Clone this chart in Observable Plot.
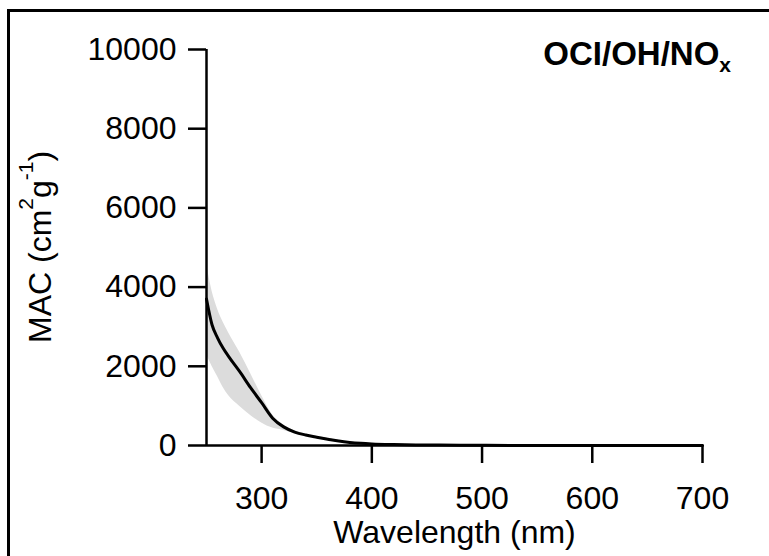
<!DOCTYPE html>
<html>
<head>
<meta charset="utf-8">
<script src="https://cdn.jsdelivr.net/npm/d3@7"></script>
<script src="https://cdn.jsdelivr.net/npm/@observablehq/plot@0.6"></script>
<style>
  html, body { margin: 0; padding: 0; background: #fff; }
  #wrap { position: relative; width: 769px; height: 556px; overflow: hidden; }
  #frame { position: absolute; left: 7px; top: 9px; width: 800px; height: 600px;
           border-left: 3px solid #000; border-top: 3px solid #000; pointer-events: none; }
  svg { font-family: "Liberation Sans", Arial, sans-serif; }
</style>
</head>
<body>
<div id="wrap"><div id="frame"></div></div>
<script>
// Mass absorption coefficient spectrum (OCI/OH/NOx), mean with uncertainty band
const wavelength = [250, 255, 260, 265, 270, 280, 290, 300, 310, 320, 330, 340, 350, 360, 370, 380, 390, 400, 420, 440, 460, 480, 500, 550, 600, 650, 700];
const macMean    = [3700, 3050, 2720, 2460, 2250, 1870, 1460, 1080, 690, 470, 340, 265, 210, 160, 112, 78, 55, 40, 24, 15, 10, 6, 4, 2, 1, 1, 0];
const macLow     = [2300, 2000, 1740, 1470, 1260, 990, 760, 570, 440, 380, 300, 235, 185, 140, 98, 68, 48, 34, 20, 12, 6, 3, 2, 0, 0, 0, 0];
const macHigh    = [4600, 3900, 3450, 3120, 2850, 2360, 1820, 1260, 770, 520, 370, 290, 232, 178, 125, 88, 62, 46, 28, 18, 13, 9, 6, 4, 2, 2, 1];

const yTicks = [0, 2000, 4000, 6000, 8000, 10000];
const xTicks = [300, 400, 500, 600, 700];

const spectrum = wavelength.map((wl, i) => ({wl, mac: macMean[i], lo: macLow[i], hi: macHigh[i]}));

const chart = Plot.plot({
  width: 769,
  height: 556,
  marginLeft: 206,
  marginRight: 67,
  marginTop: 49,
  marginBottom: 111,
  style: {background: "transparent", fontFamily: "Liberation Sans, Arial, sans-serif", color: "#000"},
  x: {domain: [250, 700]},
  y: {domain: [0, 10000]},
  marks: [
    Plot.areaY(spectrum, {x: "wl", y1: "lo", y2: "hi", fill: "#dcdcdc", curve: "monotone-x"}),
    Plot.line(spectrum, {x: "wl", y: "mac", stroke: "#000", strokeWidth: 3, curve: "monotone-x"}),
    Plot.ruleX([250], {stroke: "#000", strokeWidth: 2.5}),
    Plot.ruleY([0], {stroke: "#000", strokeWidth: 2.5}),
    Plot.axisY({ticks: yTicks, tickSize: 18, tickPadding: 12, fontSize: 32, tickFormat: d3.format("d"),
                label: null, stroke: "#000", strokeWidth: 2.5, fill: "#000"}),
    Plot.axisX({ticks: xTicks, tickSize: 18, tickPadding: 23, fontSize: 32, tickFormat: d3.format("d"),
                label: null, stroke: "#000", strokeWidth: 2.5, fill: "#000"}),
    Plot.text(["Wavelength (nm)"], {frameAnchor: "bottom", lineAnchor: "bottom", dy: 97, fontSize: 32, fill: "#000"})
  ]
});

document.getElementById("wrap").prepend(chart);

const svg = d3.select(chart);

// y-axis title with superscripts
const yl = svg.append("text")
  .attr("transform", "rotate(-90)")
  .attr("x", -343).attr("y", 51)
  .attr("font-size", 32).attr("fill", "#000").attr("text-anchor", "start");
yl.append("tspan").text("MAC (cm");
yl.append("tspan").attr("font-size", 21).attr("dy", -18).text("2");
yl.append("tspan").attr("dy", 18).text("g");
yl.append("tspan").attr("font-size", 21).attr("dy", -18).text("-1");
yl.append("tspan").attr("dy", 18).text(")");

// panel title with subscript
const tt = svg.append("text")
  .attr("x", 731).attr("y", 65)
  .attr("font-size", 33).attr("font-weight", "bold").attr("fill", "#000").attr("text-anchor", "end");
tt.append("tspan").text("OCI/OH/NO");
tt.append("tspan").attr("font-size", 21).attr("dy", 7).text("x");
</script>
</body>
</html>
